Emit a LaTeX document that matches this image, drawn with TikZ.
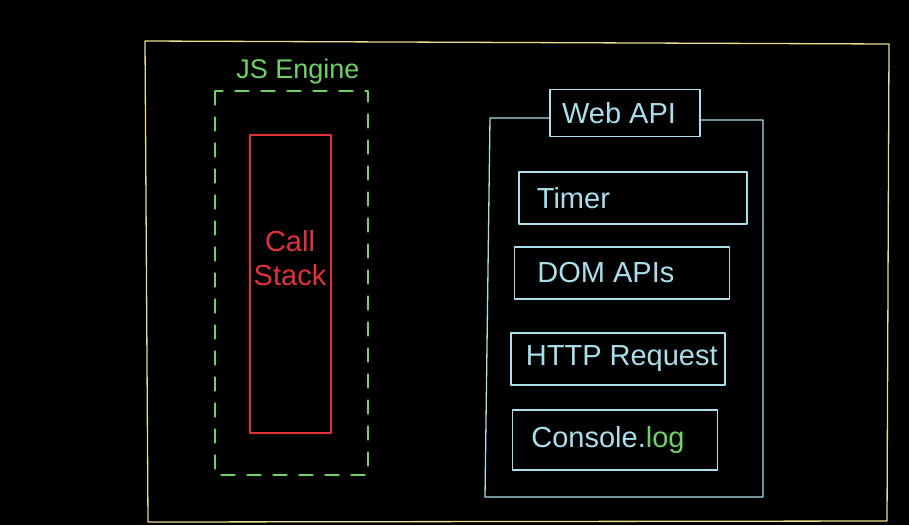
\documentclass[tikz,border=0pt]{standalone}
\usepackage{fontspec}
\setmainfont{Liberation Sans}
\definecolor{frameY}{RGB}{232,222,140}
\definecolor{engG}{RGB}{110,210,100}
\definecolor{stackR}{RGB}{225,50,60}
\definecolor{apiC}{RGB}{170,222,235}
\begin{document}
\begin{tikzpicture}[x=1pt,y=-1pt,
  pen/.style={line width=1.3pt, line cap=round, line join=round},
  apibox/.style={pen, draw=apiC, minimum height=52pt, inner sep=0pt},
  apitext/.style={text=apiC, font=\fontsize{29}{31}\selectfont, anchor=west}]
\fill[black] (0,0) rectangle (909,525);
\useasboundingbox (0,0) rectangle (909,525);
% outer frame
\draw[pen, draw=frameY] (145,41) -- (889,44) -- (887,521) -- (148,522) -- cycle;
% JS engine
\draw[pen, draw=engG, dash pattern=on 14pt off 12pt] (215,91) rectangle (368,475);
\node[text=engG, font=\fontsize{27}{29}\selectfont] (jse) at (298,72) {JS Engine};
% call stack
\draw[pen, draw=stackR] (250,135) rectangle (331,433);
\node[text=stackR, font=\fontsize{29}{34}\selectfont, align=center] (cs) at (290,258) {Call\\Stack};
% web api container
\node[apibox, minimum width=150pt, minimum height=47pt] (web) at (625,113) {};
\node[text=apiC, font=\fontsize{29}{31}\selectfont] at (619,113) {Web API};
\coordinate (tl) at (490,118);
\coordinate (tr) at (763,120);
\coordinate (bl) at (485,497);
\coordinate (br) at (763,497);
\draw[pen, draw=apiC] (web.west |- tl) -- (tl) -- (bl) -- (br) -- (tr) -- (web.east |- tr);
% api boxes
\node[apibox, minimum width=228pt] (timer) at (633,198) {};
\node[apitext] at ([xshift=15pt]timer.west) {Timer};
\node[apibox, minimum width=215pt] (dom) at (622,273) {};
\node[apitext] at ([xshift=20pt]dom.west) {DOM APIs};
\node[apibox, minimum width=214pt] (http) at (618,359) {};
\node[apitext] at ([xshift=12pt]http.west) {HTTP Request};
\node[apibox, minimum width=205pt, minimum height=60pt] (con) at (615,440) {};
\node[apitext] at ([xshift=16pt]con.west) {Console.\textcolor{engG}{log}};
\end{tikzpicture}
\end{document}
